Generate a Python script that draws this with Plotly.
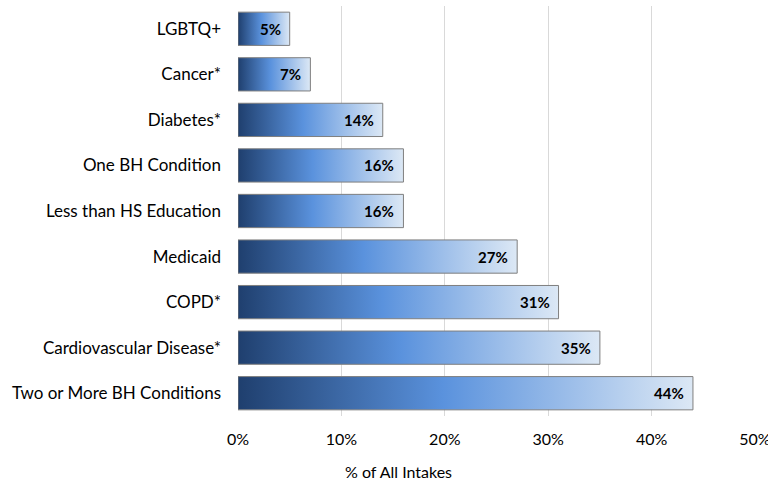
import plotly.graph_objects as go

# Share of all intakes by population characteristic
categories = [
    "LGBTQ+",
    "Cancer*",
    "Diabetes*",
    "One BH Condition",
    "Less than HS Education",
    "Medicaid",
    "COPD*",
    "Cardiovascular Disease*",
    "Two or More BH Conditions",
]
values = [5, 7, 14, 16, 16, 27, 31, 35, 44]
x_ticks = [0, 10, 20, 30, 40, 50]
x_tick_labels = ["0%", "10%", "20%", "30%", "40%", "50%"]

FONT = "Lato"
HALF = 0.365  # half of the bar thickness, in category units
GRADIENT = [[0.0, "#1F3F6E"], [0.45, "#5A92DD"], [1.0, "#DCE8F5"]]

fig = go.Figure()

for i, (cat, v) in enumerate(zip(categories, values)):
    fig.add_trace(go.Scatter(
        x=[0, v, v, 0, 0],
        y=[i - HALF, i - HALF, i + HALF, i + HALF, i - HALF],
        mode="lines",
        fill="toself",
        fillgradient=dict(type="horizontal", colorscale=GRADIENT),
        line=dict(color="#7F7F7F", width=1),
        hoverinfo="skip",
        showlegend=False,
        name=cat,
    ))
    fig.add_annotation(
        x=v, y=i, text=f"<b>{v}%</b>", showarrow=False,
        xanchor="right", xshift=-7, yanchor="middle",
        font=dict(family=FONT, size=15, color="#000000"),
    )

fig.add_annotation(
    x=0.31, xref="paper", y=-0.135, yref="paper",
    text="% of All Intakes", showarrow=False,
    xanchor="center", yanchor="middle",
    font=dict(family=FONT, size=16, color="#000000"),
)

fig.update_xaxes(
    range=[0, 50],
    tickvals=x_ticks,
    ticktext=x_tick_labels,
    showgrid=True,
    gridcolor="#D9D9D9",
    gridwidth=1,
    zeroline=False,
    showline=False,
    ticks="",
    ticklabelstandoff=12,
    ticklabeloverflow="allow",
    automargin=False,
    tickfont=dict(family=FONT, size=16, color="#000000"),
)
fig.update_yaxes(
    range=[len(categories) - 0.5, -0.5],
    tickvals=list(range(len(categories))),
    ticktext=categories,
    showgrid=False,
    zeroline=False,
    showline=False,
    ticks="",
    ticklabelstandoff=16,
    automargin=False,
    tickfont=dict(family=FONT, size=17, color="#000000"),
)

fig.update_layout(
    width=768,
    height=482,
    margin=dict(l=238, r=13, t=6, b=66),
    plot_bgcolor="#FFFFFF",
    paper_bgcolor="#FFFFFF",
)

fig.write_html("out.html")
